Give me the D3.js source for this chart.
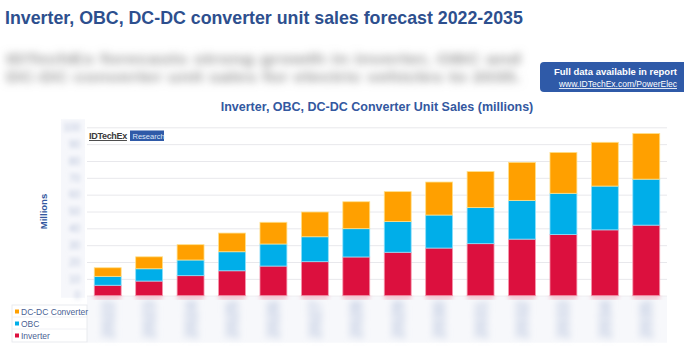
<!DOCTYPE html>
<html>
<head>
<meta charset="utf-8">
<script src="https://cdn.jsdelivr.net/npm/d3@7"></script>
<style>
  body { margin: 0; background: #fff; }
  svg { display: block; font-family: "Liberation Sans", Arial, sans-serif; }
</style>
</head>
<body>
<svg id="target"></svg>
<script>
// Chart data (millions of units)
let years = ["2022", "2023", "2024", "2025", "2026", "2027", "2028",
             "2029", "2030", "2031", "2032", "2033", "2034", "2035"];
let inverter = [6.2, 8.7, 11.9, 14.8, 17.6, 20.2, 23.0, 25.8, 28.3, 30.9, 33.6, 36.3, 39.1, 41.9];
let obc = [5.3, 7.3, 9.3, 11.3, 13.1, 14.8, 16.8, 18.2, 19.6, 21.4, 23.0, 24.5, 26.0, 27.3];
let dcdc = [5.1, 7.1, 9.1, 11.1, 12.9, 14.7, 16.0, 17.8, 19.6, 21.4, 22.6, 24.3, 26.0, 27.1];
let seriesNames = ["Inverter", "OBC", "DC-DC Converter"];
let seriesColors = ["#dc103e", "#00aee9", "#ffa000"];
let seriesStrokes = ["#f59ab0", "#8fe0fa", "#ffe08a"];
let yTicks = [0, 10, 20, 30, 40, 50, 60, 70, 80, 90, 100];

let W = 684, H = 350;
let plot = {left: 87, right: 667, top: 127.3, bottom: 295.7};

function main() {
    let svg = d3.select("#target").attr("width", W).attr("height", H);

    let defs = svg.append("defs");
    defs.append("filter").attr("id", "blur4")
        .attr("x", "-5%").attr("y", "-60%").attr("width", "110%").attr("height", "220%")
        .append("feGaussianBlur").attr("stdDeviation", 4);
    defs.append("filter").attr("id", "blur2")
        .attr("x", "-50%").attr("y", "-20%").attr("width", "200%").attr("height", "140%")
        .append("feGaussianBlur").attr("stdDeviation", 2.2);
    defs.append("filter").attr("id", "blurX")
        .attr("x", "-100%").attr("y", "-30%").attr("width", "300%").attr("height", "160%")
        .append("feGaussianBlur").attr("stdDeviation", 3.8);

    // Page title
    svg.append("text")
        .attr("x", 5).attr("y", 24)
        .attr("font-size", 17.8).attr("font-weight", "bold")
        .attr("fill", "#2d4f8e")
        .text("Inverter, OBC, DC-DC converter unit sales forecast 2022-2035");

    // Blurred intro paragraph
    let para = [
        "IDTechEx forecasts strong growth in inverter, OBC and",
        "DC-DC converter unit sales for electric vehicles to 2035."
    ];
    svg.append("g").attr("filter", "url(#blur4)")
        .selectAll("text").data(para).enter().append("text")
        .attr("x", 6).attr("y", (d, i) => 64 + i * 18)
        .attr("font-size", 14).attr("font-weight", "bold").attr("fill", "#999999")
        .attr("textLength", 515).attr("lengthAdjust", "spacingAndGlyphs")
        .text(d => d);

    // Report badge
    svg.append("rect")
        .attr("x", 540).attr("y", 62).attr("width", 150).attr("height", 30)
        .attr("rx", 4).attr("fill", "#2f5aa8");
    svg.append("text")
        .attr("x", 677).attr("y", 75).attr("text-anchor", "end")
        .attr("font-size", 9.5).attr("font-weight", "bold").attr("fill", "#fff")
        .text("Full data available in report");
    svg.append("text")
        .attr("x", 677).attr("y", 87).attr("text-anchor", "end")
        .attr("font-size", 8.5).attr("fill", "#fff")
        .attr("text-decoration", "underline")
        .text("www.IDTechEx.com/PowerElec");

    // Chart title
    svg.append("text")
        .attr("x", 377).attr("y", 111).attr("text-anchor", "middle")
        .attr("font-size", 12.5).attr("font-weight", "bold").attr("fill", "#3358a0")
        .text("Inverter, OBC, DC-DC Converter Unit Sales (millions)");

    // Scales
    let x = d3.scaleBand()
        .domain(years)
        .range([plot.left, plot.right])
        .paddingInner(0.35)
        .paddingOuter(0.175);

    let y = d3.scaleLinear()
        .domain([0, 100])
        .range([plot.bottom, plot.top]);

    // Gridlines
    svg.append("g")
        .attr("transform", "translate(" + plot.left + ",0)")
        .call(d3.axisLeft(y).tickValues(yTicks).tickSize(-(plot.right - plot.left)).tickFormat(""))
        .call(g => g.select(".domain").remove())
        .call(g => g.selectAll("line").attr("stroke", "#e8e8ec").attr("stroke-width", 1));

    // Blurred y tick labels
    svg.append("rect")
        .attr("x", 61).attr("y", plot.top - 8).attr("width", 24).attr("height", plot.bottom - plot.top + 10)
        .attr("fill", "#f6f7fb");
    svg.append("g")
        .attr("filter", "url(#blur2)")
        .attr("transform", "translate(" + (plot.left - 4) + ",0)")
        .call(d3.axisLeft(y).tickValues(yTicks).tickSize(0))
        .call(g => g.select(".domain").remove())
        .call(g => g.selectAll("text").attr("font-size", 10).attr("fill", "#b9c3da")
            .attr("font-family", "Liberation Sans, Arial, sans-serif"));

    // Y axis title
    svg.append("text")
        .attr("transform", "translate(47," + ((plot.top + plot.bottom) / 2) + ") rotate(-90)")
        .attr("text-anchor", "middle")
        .attr("font-size", 9.5).attr("font-weight", "bold").attr("fill", "#3358a0")
        .text("Millions");

    // Blurred x labels (rotated years)
    svg.append("rect")
        .attr("x", plot.left).attr("y", plot.bottom + 1)
        .attr("width", plot.right - plot.left).attr("height", 46)
        .attr("fill", "#f7f8fb");
    svg.append("g")
        .attr("filter", "url(#blurX)")
        .selectAll("text")
        .data(years)
        .enter()
        .append("text")
        .attr("transform", d => "translate(" + (x(d) + x.bandwidth() / 2) + "," + (plot.bottom + 5) + ") rotate(-90)")
        .attr("text-anchor", "end")
        .attr("dy", "0.35em")
        .attr("font-size", 17).attr("font-weight", "bold").attr("fill", "#bcc7df")
        .text(d => d);

    // Stacked bars
    let table = years.map((yr, i) => ({
        year: yr,
        "Inverter": inverter[i],
        "OBC": obc[i],
        "DC-DC Converter": dcdc[i]
    }));
    let stacked = d3.stack().keys(seriesNames)(table);

    // soft red glow just under the bars
    svg.append("g")
        .attr("filter", "url(#blur2)")
        .selectAll("rect")
        .data(years)
        .enter()
        .append("rect")
        .attr("x", d => x(d))
        .attr("y", plot.bottom)
        .attr("width", x.bandwidth())
        .attr("height", 3)
        .attr("fill", "#f2a3b6");

    svg.append("g")
        .selectAll("g")
        .data(stacked)
        .enter()
        .append("g")
        .attr("fill", (d, i) => seriesColors[i])
        .attr("stroke", (d, i) => seriesStrokes[i])
        .attr("stroke-width", 0.8)
        .selectAll("rect")
        .data(d => d)
        .enter()
        .append("rect")
        .attr("x", d => x(d.data.year))
        .attr("y", d => y(d[1]))
        .attr("width", x.bandwidth())
        .attr("height", d => y(d[0]) - y(d[1]));

    // IDTechEx logo
    svg.append("text")
        .attr("x", 89).attr("y", 139)
        .attr("font-size", 9).attr("font-weight", "bold").attr("fill", "#3a3a3a")
        .attr("text-decoration", "underline")
        .attr("letter-spacing", -0.3)
        .text("IDTechEx");
    svg.append("rect")
        .attr("x", 130).attr("y", 130.5).attr("width", 34).attr("height", 10.5)
        .attr("fill", "#2f5aa8");
    svg.append("text")
        .attr("x", 132.5).attr("y", 138.6)
        .attr("font-size", 7.5).attr("fill", "#dfe8f8")
        .text("Research");

    // Legend
    let legendItems = [2, 1, 0];
    let lg = svg.append("g");
    lg.append("rect")
        .attr("x", 12).attr("y", 305).attr("width", 75).attr("height", 37)
        .attr("fill", "#fff").attr("stroke", "#e4e6ec").attr("stroke-width", 0.8);
    lg.selectAll("line.sep")
        .data([0, 1])
        .enter()
        .append("line")
        .attr("class", "sep")
        .attr("x1", 12).attr("x2", 87)
        .attr("y1", d => 317 + d * 12).attr("y2", d => 317 + d * 12)
        .attr("stroke", "#eceef3").attr("stroke-width", 0.8);
    let items = lg.selectAll("g.item")
        .data(legendItems)
        .enter()
        .append("g")
        .attr("class", "item")
        .attr("transform", (d, i) => "translate(15," + (311.5 + i * 12) + ")");
    items.append("rect")
        .attr("x", 0).attr("y", -2).attr("width", 4).attr("height", 4)
        .attr("fill", d => seriesColors[d]);
    items.append("text")
        .attr("x", 6).attr("y", 3)
        .attr("font-size", 8.5).attr("fill", "#4a5f94")
        .text(d => seriesNames[d]);
}

main();
</script>
</body>
</html>
